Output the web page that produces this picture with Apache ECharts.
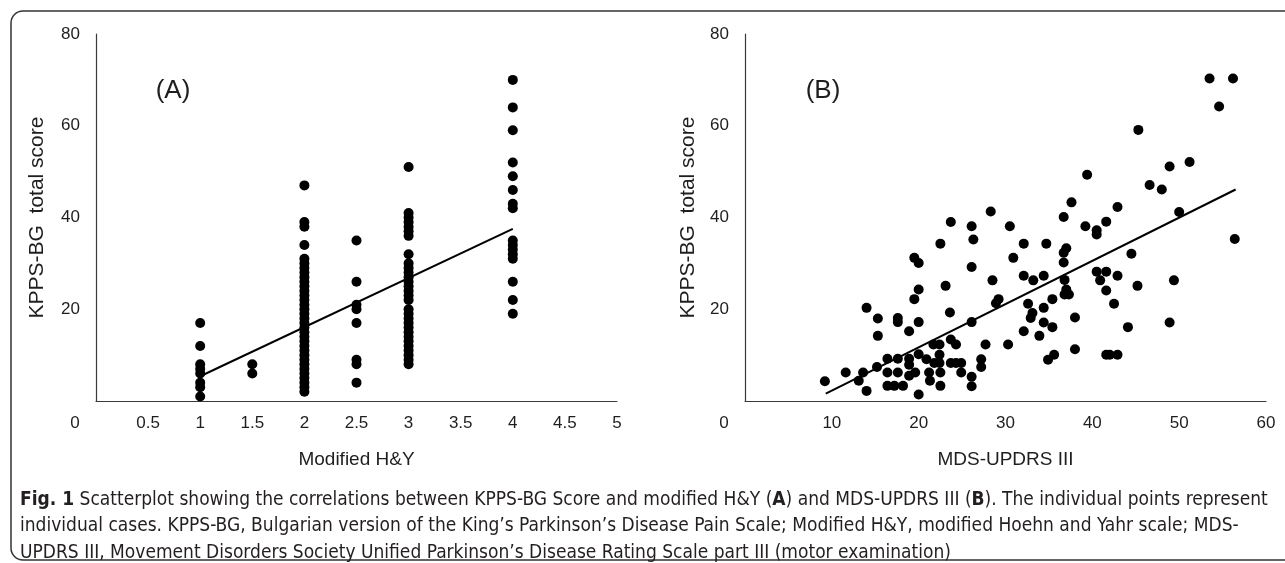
<!DOCTYPE html>
<html>
<head>
<meta charset="utf-8">
<script src="https://cdn.jsdelivr.net/npm/echarts@6/dist/echarts.min.js"></script>
<style>
html,body{margin:0;padding:0;background:#fff;}
#chart{width:1285px;height:563px;}
</style>
</head>
<body>
<div id="chart"></div>
<script>
// ---- Panel A: KPPS-BG total score by modified H&Y stage ----
const stageLevels = [1, 1.5, 2, 2.5, 3, 4];
const scoresHY1  = [17, 12, 8, 7, 6, 4, 3, 1];
const scoresHY15 = [8, 6];
const scoresHY2  = [47, 39, 38, 34, 31, 30, 29, 28, 27, 26, 25, 24, 23, 22, 21, 20, 19, 18, 17, 16, 15, 14, 13, 12, 11, 10, 9, 8, 7, 6, 5, 4, 3, 2];
const scoresHY25 = [35, 26, 21, 20, 17, 9, 8, 4];
const scoresHY3  = [51, 41, 40, 39, 38, 37, 36, 32, 30, 29, 28, 27, 26, 25, 24, 23, 22, 20, 19, 18, 17, 16, 15, 14, 13, 12, 11, 10, 9, 8];
const scoresHY4  = [70, 64, 59, 52, 49, 46, 43, 42, 35, 34, 33, 32, 31, 26, 22, 19];
const trendAx = [1, 4];
const trendAy = [5.4, 37.5];
const xTicksA = { min: 0, max: 5, interval: 0.5 };

// ---- Panel B: KPPS-BG total score vs MDS-UPDRS III ----
const updrs = [9.2, 11.6, 13.1, 13.6, 14.0, 14.0, 15.2, 15.3, 15.3, 16.4, 16.4, 16.4, 17.2, 17.6, 17.6, 17.6, 17.6, 18.2, 18.9, 18.9, 18.9, 18.9,
  19.5, 20.0, 20.0, 19.5, 20.0, 19.6, 20.0, 20.0, 20.9, 21.2, 21.3, 21.7, 22.4, 22.4, 22.4, 22.5, 22.5, 22.5, 21.8, 23.1, 23.6, 23.7, 23.7,
  24.3, 23.7, 24.3, 24.9, 24.9, 26.1, 26.3, 26.1, 26.1, 26.1, 26.1, 27.2, 27.2, 27.7, 28.3, 28.5, 28.9, 29.2, 30.3, 30.5, 30.9,
  32.1, 32.1, 32.1, 32.6, 33.1, 32.9, 33.2, 33.9, 34.4, 34.4, 34.4, 34.7, 34.9, 35.6, 35.4, 35.4, 36.7, 36.7, 37.0, 36.7, 36.8,
  37.0, 36.8, 37.3, 37.6, 38.0, 38.0, 39.2, 39.4, 40.5, 40.5, 40.5, 40.9, 41.6, 41.6, 41.6, 41.6, 42.0, 42.9, 42.9, 42.5, 42.9,
  44.1, 44.5, 45.2, 45.3, 46.6, 48.0, 48.9, 48.9, 49.4, 50.0, 51.2, 53.5, 54.6, 56.2, 56.4];
const kppsB = [4.3, 6.2, 4.4, 6.2, 2.2, 20.3, 7.4, 18.0, 14.2, 9.2, 6.2, 3.3, 3.3, 9.2, 6.2, 18.1, 17.2, 3.3, 15.2, 9.2, 7.9, 5.5,
  31.2, 30.1, 24.3, 22.2, 17.2, 6.2, 10.2, 1.4, 9.1, 6.2, 4.4, 12.3, 12.3, 10.1, 8.3, 6.2, 3.3, 34.3, 8.3, 25.1, 19.3, 39.0, 13.4,
  12.3, 8.3, 8.3, 8.3, 6.2, 38.1, 35.2, 29.2, 17.2, 5.3, 3.2, 9.1, 7.4, 12.3, 41.3, 26.3, 21.3, 22.2, 12.3, 38.1, 31.2,
  34.3, 27.3, 15.2, 21.2, 19.2, 18.1, 26.3, 14.2, 27.3, 20.3, 17.1, 34.3, 9.0, 10.1, 22.2, 16.1, 40.1, 32.3, 33.3, 30.2, 26.4,
  24.3, 23.2, 23.2, 43.3, 18.2, 11.3, 38.1, 49.3, 37.2, 36.3, 28.2, 26.3, 39.1, 28.2, 24.1, 10.1, 10.1, 42.3, 27.3, 21.2, 10.1,
  16.1, 32.1, 25.1, 59.1, 47.1, 46.1, 51.1, 17.1, 26.3, 41.2, 52.1, 70.3, 64.2, 70.3, 35.3];
const trendBx = [9.3, 56.5];
const trendBy = [1.6, 46.1];
const xTicksB = { min: 0, max: 60, interval: 10 };

const yTicks = { min: 0, max: 80, interval: 20 };
const yTitle = 'KPPS-BG  total score';
const xTitleA = 'Modified H&Y';
const xTitleB = 'MDS-UPDRS III';
const panelA = '(A)';
const panelB = '(B)';
const captionLines = [
  '{b|Fig. 1} Scatterplot showing the correlations between KPPS-BG Score and modified H&Y ({b|A}) and MDS-UPDRS III ({b|B}). The individual points represent',
  'individual cases. KPPS-BG, Bulgarian version of the King\u2019s Parkinson\u2019s Disease Pain Scale; Modified H&Y, modified Hoehn and Yahr scale; MDS-',
  'UPDRS III, Movement Disorders Society Unified Parkinson\u2019s Disease Rating Scale part III (motor examination)'
];

// ---- build ----
const columnsA = [scoresHY1, scoresHY15, scoresHY2, scoresHY25, scoresHY3, scoresHY4];
const dataA = [];
columnsA.forEach((col, i) => col.forEach(v => dataA.push([stageLevels[i], v])));
const dataB = updrs.map((x, i) => [x, kppsB[i]]);
const lineA = trendAx.map((x, i) => [x, trendAy[i]]);
const lineB = trendBx.map((x, i) => [x, trendBy[i]]);

const FONT = '"Liberation Sans", Arial, sans-serif';
const TXT = '#1e1e1e';
const AXC = '#3a3a3a';

function xAxisCfg(ticks, title, gridIndex) {
  return {
    type: 'value', gridIndex, min: ticks.min, max: ticks.max, interval: ticks.interval,
    name: title, nameLocation: 'middle', nameGap: 49,
    nameTextStyle: { fontFamily: FONT, fontSize: 19, color: TXT },
    axisLine: { show: true, onZero: false, lineStyle: { color: AXC, width: 1.2 } },
    axisTick: { show: false },
    splitLine: { show: false },
    axisLabel: {
      fontFamily: FONT, fontSize: 17, color: TXT, margin: 14,
      formatter: v => v === 0 ? '{z|0}' : String(v),
      rich: { z: { fontFamily: FONT, fontSize: 17, color: TXT, padding: [0, 42, 0, 0] } }
    }
  };
}
function yAxisCfg(gridIndex, gap) {
  return {
    type: 'value', gridIndex, min: yTicks.min, max: yTicks.max, interval: yTicks.interval,
    name: yTitle, nameLocation: 'middle', nameGap: gap, nameRotate: 90,
    nameTextStyle: { fontFamily: FONT, fontSize: 21, color: TXT },
    axisLine: { show: true, onZero: false, lineStyle: { color: AXC, width: 1.2 } },
    axisTick: { show: false },
    splitLine: { show: false },
    axisLabel: {
      fontFamily: FONT, fontSize: 17, color: TXT, margin: 16,
      formatter: v => v === 0 ? '' : String(v)
    }
  };
}

const chart = echarts.init(document.getElementById('chart'), null, { renderer: 'canvas' });
const capFont = '"Liberation Sans Narrow", "DejaVu Sans Condensed", "Liberation Sans", sans-serif';
const captionGraphics = captionLines.map((t, i) => ({
  type: 'text', x: 20, y: 500 + i * 26.5,
  style: {
    text: t, fill: '#231f20', font: '19px ' + capFont, verticalAlign: 'middle',
    rich: { b: { fontWeight: 'bold', fontSize: 19, fontFamily: capFont, fill: '#231f20' } }
  }
}));

chart.setOption({
  backgroundColor: '#ffffff',
  animation: false,
  grid: [
    { left: 96, right: 668, top: 34, bottom: 162 },
    { left: 745, right: 19, top: 34, bottom: 162 }
  ],
  xAxis: [xAxisCfg(xTicksA, xTitleA, 0), xAxisCfg(xTicksB, xTitleB, 1)],
  yAxis: [yAxisCfg(0, 48), yAxisCfg(1, 46)],
  series: [
    { type: 'scatter', xAxisIndex: 0, yAxisIndex: 0, data: dataA, symbolSize: 10, itemStyle: { color: '#000', opacity: 1 } },
    { type: 'line', xAxisIndex: 0, yAxisIndex: 0, data: lineA, symbol: 'none', lineStyle: { color: '#000', width: 2 } },
    { type: 'scatter', xAxisIndex: 1, yAxisIndex: 1, data: dataB, symbolSize: 10, itemStyle: { color: '#000', opacity: 1 } },
    { type: 'line', xAxisIndex: 1, yAxisIndex: 1, data: lineB, symbol: 'none', lineStyle: { color: '#000', width: 2 } }
  ],
  graphic: [
    { type: 'rect', shape: { x: 11, y: 11, width: 1320, height: 549, r: 12 }, style: { fill: 'none', stroke: '#333', lineWidth: 1.5 }, z: -1 },
    { type: 'text', x: 173, y: 91, style: { text: panelA, font: '26px ' + FONT, fill: TXT, align: 'center', verticalAlign: 'middle' } },
    { type: 'text', x: 823, y: 91, style: { text: panelB, font: '26px ' + FONT, fill: TXT, align: 'center', verticalAlign: 'middle' } }
  ].concat(captionGraphics)
});
</script>
</body>
</html>
